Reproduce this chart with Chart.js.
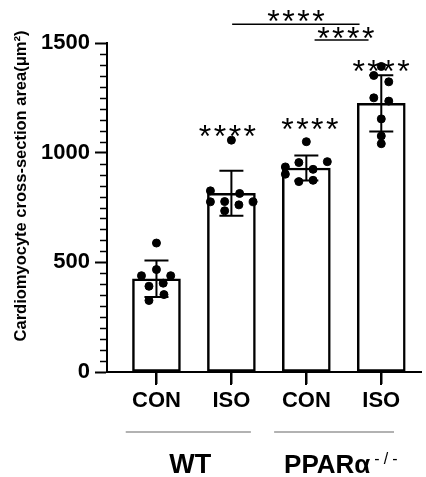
<!DOCTYPE html>
<html>
<head>
<meta charset="utf-8">
<script src="https://cdn.jsdelivr.net/npm/chart.js@4"></script>
<style>
  html, body { margin: 0; padding: 0; background: #fff; }
</style>
</head>
<body>
<canvas id="areaChart" width="426" height="477"></canvas>
<script>
// Categories and groups
const CATEGORIES = ["CON", "ISO", "CON", "ISO"];
const GROUP_NAMES = ["WT", "PPARα"];
const Y_TICKS = [0, 500, 1000, 1500];

// Bar means and SD (µm²)
const MEANS = [425, 815, 930, 1225];
const SDS = [83, 103, 57, 128];

// Individual animals per group, with horizontal jitter (category units)
const WT_CON = [588, 467, 439, 439, 391, 405, 353, 326];
const WT_CON_X = [0, 0, -0.2, 0.19, -0.1, 0.09, 0.1, -0.1];
const WT_ISO = [1057, 826, 814, 776, 777, 762, 776, 735];
const WT_ISO_X = [0, -0.28, 0.11, -0.28, -0.09, 0.1, 0.29, -0.09];
const KO_CON = [1050, 935, 902, 955, 924, 959, 868, 874];
const KO_CON_X = [0, -0.28, -0.28, -0.1, 0.09, 0.28, -0.1, 0.09];
const KO_ISO = [1393, 1352, 1323, 1250, 1235, 1154, 1076, 1041];
const KO_ISO_X = [0, -0.1, 0.1, -0.1, 0.1, 0, 0, 0];

const FONT = "'Liberation Sans', Arial, sans-serif";

// Annotation placement (category units / axis values)
const STAR_MARKS = [
  { x: 0.95, y: 1094 },
  { x: 2.05, y: 1126 },
  { x: 3.0, y: 1392 },
];
const BRACKETS = [
  { from: 1.01, to: 2.71, y: 1585, starX: 1.865, starY: 1620 },
  { from: 2.11, to: 2.83, y: 1514, starX: 2.53, starY: 1540 },
];
const GROUP_LINES = [
  { from: -0.41, to: 1.26, labelX: 0.45 },
  { from: 1.57, to: 3.17, labelX: 2.486 },
];

const toPoints = (vals, offs, i) => vals.map((v, k) => ({ x: i + offs[k], y: v }));

const allPoints = [
  ...toPoints(WT_CON, WT_CON_X, 0),
  ...toPoints(WT_ISO, WT_ISO_X, 1),
  ...toPoints(KO_CON, KO_CON_X, 2),
  ...toPoints(KO_ISO, KO_ISO_X, 3),
];

const drawStars = (ctx, x, yCenter) => {
  ctx.save();
  ctx.font = `32px ${FONT}`;
  ctx.letterSpacing = "2.5px";
  ctx.fillStyle = "#000";
  ctx.textAlign = "center";
  ctx.textBaseline = "alphabetic";
  ctx.fillText("****", x + 1, yCenter + 15);
  ctx.restore();
};

// Error bars, minor ticks, significance marks, group labels, y title
const overlayPlugin = {
  id: "overlay",
  afterDatasetDraw(chart, args) {
    if (args.index !== 1) return;
    const { ctx, scales: { x, y } } = chart;
    ctx.save();
    ctx.strokeStyle = "#000";
    ctx.lineWidth = 2;
    MEANS.forEach((m, i) => {
      const px = x.getPixelForValue(i);
      const top = y.getPixelForValue(m + SDS[i]);
      const bot = y.getPixelForValue(m - SDS[i]);
      ctx.beginPath();
      ctx.moveTo(px, top);
      ctx.lineTo(px, bot);
      ctx.moveTo(px - 12, top);
      ctx.lineTo(px + 12, top);
      ctx.moveTo(px - 12, bot);
      ctx.lineTo(px + 12, bot);
      ctx.stroke();
    });
    ctx.restore();
  },
  afterDraw(chart) {
    const { ctx, scales: { x, y } } = chart;
    const left = y.right;
    const base = y.getPixelForValue(0);
    ctx.save();

    // minor ticks every 50
    ctx.strokeStyle = "#000";
    ctx.lineWidth = 1.5;
    for (let v = 50; v < 1500; v += 50) {
      if (v % 500 === 0) continue;
      const py = Math.round(y.getPixelForValue(v)) + 0.5;
      ctx.beginPath();
      ctx.moveTo(left - 7, py);
      ctx.lineTo(left, py);
      ctx.stroke();
    }

    // category tick marks under the x axis
    ctx.fillStyle = "#000";
    CATEGORIES.forEach((c, i) => {
      const px = Math.round(x.getPixelForValue(i));
      ctx.fillRect(px - 1, base, 2, 13);
    });

    // stars over bars
    STAR_MARKS.forEach((s) => drawStars(ctx, x.getPixelForValue(s.x), y.getPixelForValue(s.y)));

    // comparison brackets
    ctx.lineWidth = 1.5;
    BRACKETS.forEach((b) => {
      const py = y.getPixelForValue(b.y);
      ctx.beginPath();
      ctx.moveTo(x.getPixelForValue(b.from), py);
      ctx.lineTo(x.getPixelForValue(b.to), py);
      ctx.stroke();
      drawStars(ctx, x.getPixelForValue(b.starX), y.getPixelForValue(b.starY));
    });

    // group lines and labels
    ctx.strokeStyle = "#666";
    ctx.lineWidth = 1.2;
    GROUP_LINES.forEach((g) => {
      ctx.beginPath();
      ctx.moveTo(x.getPixelForValue(g.from), 432);
      ctx.lineTo(x.getPixelForValue(g.to), 432);
      ctx.stroke();
    });
    ctx.fillStyle = "#000";
    ctx.textBaseline = "alphabetic";
    ctx.textAlign = "center";
    ctx.font = `bold 27px ${FONT}`;
    ctx.fillText(GROUP_NAMES[0], x.getPixelForValue(GROUP_LINES[0].labelX), 473);

    ctx.font = `bold 26px ${FONT}`;
    const mainW = ctx.measureText(GROUP_NAMES[1]).width;
    ctx.font = `16px ${FONT}`;
    ctx.letterSpacing = "4px";
    const supW = ctx.measureText("-/-").width;
    const start = x.getPixelForValue(GROUP_LINES[1].labelX) - (mainW + supW + 4) / 2;
    ctx.textAlign = "left";
    ctx.letterSpacing = "0px";
    ctx.font = `bold 26px ${FONT}`;
    ctx.fillText(GROUP_NAMES[1], start, 473);
    ctx.font = `16px ${FONT}`;
    ctx.letterSpacing = "4px";
    ctx.fillText("-/-", start + mainW + 4, 464);
    ctx.letterSpacing = "0px";

    // y axis title
    ctx.translate(21, 186);
    ctx.rotate(-Math.PI / 2);
    ctx.textAlign = "center";
    ctx.textBaseline = "middle";
    ctx.font = `bold 16.5px ${FONT}`;
    ctx.fillText("Cardiomyocyte cross-section area(μm²)", 0, 0);

    ctx.restore();
  },
};

const ctx = document.getElementById("areaChart").getContext("2d");

new Chart(ctx, {
  type: "bar",
  data: {
    datasets: [
      {
        type: "scatter",
        data: allPoints,
        backgroundColor: "#000",
        borderColor: "#000",
        pointRadius: 4,
        order: 0,
      },
      {
        type: "bar",
        data: MEANS.map((m, i) => ({ x: i, y: m })),
        backgroundColor: "#fff",
        borderColor: "#000",
        borderWidth: 2.5,
        borderSkipped: false,
        barThickness: 48,
        order: 1,
      },
    ],
  },
  options: {
    responsive: false,
    animation: false,
    layout: { padding: { top: 43, right: 2, left: 0, bottom: 0 } },
    plugins: { legend: { display: false }, tooltip: { enabled: false } },
    scales: {
      x: {
        type: "linear",
        min: -0.66,
        max: 3.53,
        offset: false,
        afterBuildTicks: (axis) => {
          axis.ticks = CATEGORIES.map((c, i) => ({ value: i }));
        },
        afterFit: (axis) => { axis.height = 105; },
        border: { color: "#000", width: 2 },
        grid: { offset: false, drawOnChartArea: false, tickLength: 12, tickWidth: 2, tickColor: "#000" },
        ticks: {
          color: "#000",
          padding: 4,
          maxRotation: 0,
          font: { family: FONT, size: 22, weight: "bold" },
          callback: (v) => CATEGORIES[v] ?? "",
        },
      },
      y: {
        min: 0,
        max: 1500,
        afterBuildTicks: (axis) => {
          axis.ticks = Y_TICKS.map((v) => ({ value: v }));
        },
        afterFit: (axis) => { axis.width = 107; },
        border: { color: "#000", width: 2 },
        grid: { drawOnChartArea: false, tickLength: 12, tickWidth: 2, tickColor: "#000" },
        ticks: {
          color: "#000",
          padding: 5,
          font: { family: FONT, size: 22, weight: "bold" },
          callback: (v) => String(v),
        },
      },
    },
  },
  plugins: [overlayPlugin],
});
</script>
</body>
</html>
